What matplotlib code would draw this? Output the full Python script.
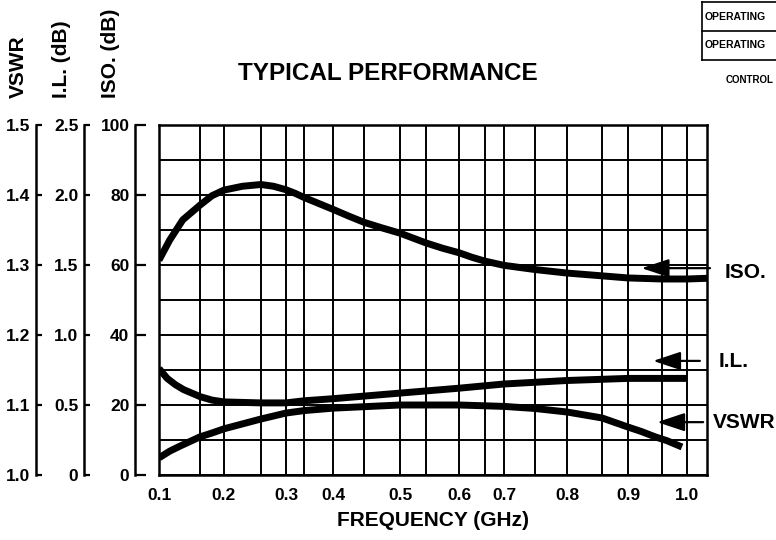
import numpy as np
import matplotlib
matplotlib.use("Agg")
import matplotlib.pyplot as plt
from matplotlib.lines import Line2D

plt.rcParams["font.family"] = "Liberation Sans"
plt.rcParams["font.weight"] = "bold"
plt.rcParams["axes.labelweight"] = "bold"

# hand-ruled frequency axis of the printed chart (uneven spacing)
GRID_FREQ = [0.10, 0.15, 0.20, 0.25, 0.30, 0.35, 0.40, 0.45, 0.50, 0.55,
             0.60, 0.65, 0.70, 0.75, 0.80, 0.85, 0.90, 0.95, 1.00, 1.035]
GRID_RULE = [0, 41, 65, 102, 127, 145, 174, 205, 241, 267,
             300, 326, 345, 376, 408, 443, 469, 503, 528, 548]

FREQ_TICKS = [0.1, 0.2, 0.3, 0.4, 0.5, 0.6, 0.7, 0.8, 0.9, 1.0]
FREQ_LABELS = ["0.1", "0.2", "0.3", "0.4", "0.5", "0.6", "0.7", "0.8", "0.9", "1.0"]

VSWR_TICKS = [1.0, 1.1, 1.2, 1.3, 1.4, 1.5]
VSWR_LABELS = ["1.0", "1.1", "1.2", "1.3", "1.4", "1.5"]
IL_TICKS = [0, 0.5, 1.0, 1.5, 2.0, 2.5]
IL_LABELS = ["0", "0.5", "1.0", "1.5", "2.0", "2.5"]
ISO_TICKS = [0, 20, 40, 60, 80, 100]

# curves
ISO_FREQ = [0.10, 0.113, 0.129, 0.15, 0.175, 0.20, 0.225, 0.25, 0.275, 0.30, 0.325,
            0.35, 0.375, 0.40, 0.425, 0.45, 0.475, 0.50, 0.525, 0.55, 0.575, 0.60,
            0.625, 0.65, 0.675, 0.70, 0.75, 0.80, 0.85, 0.90, 0.95, 1.00, 1.035]
ISO_DB = [61.4, 67.1, 72.9, 77.1, 79.8, 81.4, 82.5, 83.0, 82.5, 81.5, 80.5,
          79.3, 77.6, 75.9, 74.0, 72.2, 70.6, 69.1, 67.7, 66.3, 64.8, 63.5,
          62.2, 61.1, 60.5, 59.9, 58.7, 57.7, 56.9, 56.3, 56.0, 56.0, 56.2]

IL_FREQ = [0.10, 0.11, 0.12, 0.13, 0.15, 0.175, 0.20, 0.25, 0.30, 0.35, 0.40,
           0.50, 0.60, 0.70, 0.80, 0.90, 1.00]
IL_DB = [0.76, 0.69, 0.645, 0.61, 0.56, 0.535, 0.522, 0.515, 0.515, 0.53, 0.545,
         0.585, 0.62, 0.65, 0.675, 0.69, 0.69]

VSWR_FREQ = [0.10, 0.113, 0.126, 0.15, 0.175, 0.20, 0.25, 0.30, 0.35, 0.40, 0.50,
             0.60, 0.70, 0.75, 0.80, 0.85, 0.90, 0.92, 0.94, 0.96, 0.99]
VSWR = [1.0245, 1.034, 1.0415, 1.0545, 1.060, 1.0660, 1.080, 1.0885, 1.092, 1.0955, 1.100,
        1.100, 1.098, 1.095, 1.090, 1.0815, 1.0685, 1.062, 1.0545, 1.049, 1.040]


def fwd(f):
    return np.interp(f, GRID_FREQ, GRID_RULE)


def inv(p):
    return np.interp(p, GRID_RULE, GRID_FREQ)


fig = plt.figure(figsize=(7.76, 5.40), dpi=100)
ax = fig.add_axes([159 / 776, 65 / 540, 548 / 776, 350 / 540])
ax.set_xscale("function", functions=(fwd, inv))
ax.set_xlim(0.1, 1.035)
ax.set_ylim(0, 100)

ax.set_xticks(FREQ_TICKS)
ax.set_xticklabels(FREQ_LABELS, fontsize=12.5)
ax.set_xticks([f for f in GRID_FREQ[:-1] if f not in FREQ_TICKS], minor=True)
ax.set_yticks(np.arange(0, 101, 10))
ax.grid(True, which="both", color="black", lw=1.4)
for s in ax.spines.values():
    s.set_linewidth(1.8)
ax.set_xlabel("FREQUENCY (GHz)", fontsize=15, fontweight="bold", labelpad=6)

ax.plot(ISO_FREQ, ISO_DB, color="black", lw=5, solid_capstyle="butt")


def side_axis(lo, hi, ticks, labels, where, ticklen):
    a = ax.twinx()
    a.set_ylim(lo, hi)
    for name, s in a.spines.items():
        s.set_visible(name == "left")
    a.spines["left"].set_position(("axes", where))
    a.spines["left"].set_linewidth(1.8)
    a.yaxis.tick_left()
    a.set_yticks(ticks)
    a.set_yticklabels(labels, fontsize=12.5)
    a.tick_params(axis="y", direction="in", length=ticklen, width=1.6, pad=4)
    return a


ax_iso = side_axis(0, 100, ISO_TICKS, [str(t) for t in ISO_TICKS], -24 / 548, 8)
ax_il = side_axis(0, 2.5, IL_TICKS, IL_LABELS, -75 / 548, 4)
ax_vswr = side_axis(1.0, 1.5, VSWR_TICKS, VSWR_LABELS, -123 / 548, 4)

# twinx turns the host's left ticks back on, so silence them afterwards
ax.tick_params(axis="x", which="both", length=0, pad=9)
ax.tick_params(axis="y", which="both", left=False, right=False,
               labelleft=False, labelright=False)

ax_il.plot(IL_FREQ, IL_DB, color="black", lw=5, solid_capstyle="butt")
ax_vswr.plot(VSWR_FREQ, VSWR, color="black", lw=5, solid_capstyle="butt")

# rotated axis titles above each scale
fig.text(18.5 / 776, 1 - 98 / 540, "VSWR", rotation=90, ha="center", va="bottom", fontsize=15)
fig.text(62 / 776, 1 - 98 / 540, "I.L. (dB)", rotation=90, ha="center", va="bottom", fontsize=15)
fig.text(111 / 776, 1 - 98 / 540, "ISO. (dB)", rotation=90, ha="center", va="bottom", fontsize=15)

fig.text(387.5 / 776, 1 - 73 / 540, "TYPICAL PERFORMANCE", ha="center", va="center", fontsize=17.5)

# curve labels with arrows
arrow = dict(arrowstyle="-|>,head_length=1.2,head_width=0.4", color="black", lw=1.6,
             mutation_scale=14, shrinkA=0, shrinkB=0)
ax.annotate("", xy=(0.92, 59.1), xytext=(1.0055, 59.1),
            textcoords=ax.get_yaxis_transform(), arrowprops=arrow, annotation_clip=False)
ax_il.annotate("", xy=(0.937, 0.815), xytext=(0.987, 0.815),
               textcoords=ax_il.get_yaxis_transform(), arrowprops=arrow, annotation_clip=False)
ax_vswr.annotate("", xy=(0.943, 1.0755), xytext=(0.993, 1.0755),
                 textcoords=ax_vswr.get_yaxis_transform(), arrowprops=arrow, annotation_clip=False)
ax.text(1.033, 0.58, "ISO.", transform=ax.transAxes, ha="left", va="center", fontsize=15)
ax.text(1.022, 0.323, "I.L.", transform=ax.transAxes, ha="left", va="center", fontsize=15)
ax.text(1.011, 0.151, "VSWR", transform=ax.transAxes, ha="left", va="center", fontsize=15)

# fragment of the neighbouring spec table at the page edge
for yy in (2, 31, 60):
    fig.add_artist(Line2D([702 / 776, 1.0], [1 - yy / 540] * 2, transform=fig.transFigure,
                          color="black", lw=1.2))
fig.add_artist(Line2D([702 / 776] * 2, [1 - 2 / 540, 1 - 60 / 540], transform=fig.transFigure,
                      color="black", lw=1.2))
fig.text(705 / 776, 1 - 17 / 540, "OPERATING", ha="left", va="center", fontsize=7.5)
fig.text(705 / 776, 1 - 45 / 540, "OPERATING", ha="left", va="center", fontsize=7.5)
fig.text(726 / 776, 1 - 80 / 540, "CONTROL", ha="left", va="center", fontsize=7)

fig.savefig("out.png", dpi=100)
